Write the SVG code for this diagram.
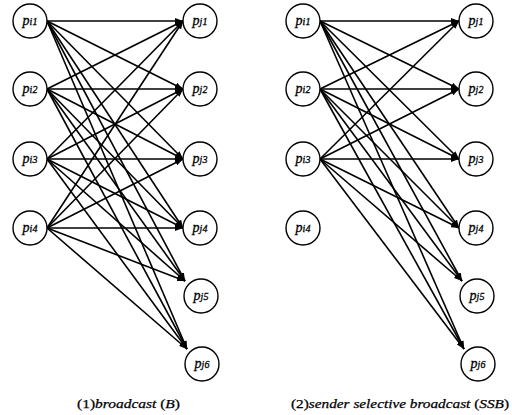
<svg xmlns="http://www.w3.org/2000/svg" width="512" height="415" viewBox="0 0 512 415">
<style>
.n circle{fill:#fff;stroke:#000;stroke-width:1.4}
.n text{font-family:"Liberation Serif",serif;font-style:italic;font-size:14px;fill:#000;text-anchor:middle;stroke:#000;stroke-width:0.3}
.n tspan.s{font-size:10px}
.e line{stroke:#000;stroke-width:1.6;marker-end:url(#ah)}
.cap{font-family:"Liberation Serif",serif;font-size:13px;fill:#000;stroke:#000;stroke-width:0.25}
.cap .i{font-style:italic}
</style>
<defs>
<marker id="ah" markerUnits="userSpaceOnUse" markerWidth="8" markerHeight="6" refX="8" refY="3" orient="auto">
<path d="M0,0 L8,3 L0,6 z" fill="#000"/>
</marker>
</defs>
<g id="edges-left" class="e">
<line x1="47" y1="21" x2="183" y2="21"/><line x1="47" y1="21" x2="183" y2="89"/><line x1="47" y1="21" x2="183" y2="159"/><line x1="47" y1="21" x2="183" y2="228"/><line x1="47" y1="21" x2="185" y2="281"/><line x1="47" y1="21" x2="187" y2="349"/>
<line x1="47" y1="89" x2="183" y2="21"/><line x1="47" y1="89" x2="183" y2="89"/><line x1="47" y1="89" x2="183" y2="159"/><line x1="47" y1="89" x2="183" y2="228"/><line x1="47" y1="89" x2="185" y2="281"/><line x1="47" y1="89" x2="187" y2="349"/>
<line x1="47" y1="159" x2="183" y2="21"/><line x1="47" y1="159" x2="183" y2="89"/><line x1="47" y1="159" x2="183" y2="159"/><line x1="47" y1="159" x2="183" y2="228"/><line x1="47" y1="159" x2="185" y2="281"/><line x1="47" y1="159" x2="187" y2="349"/>
<line x1="47" y1="228" x2="183" y2="21"/><line x1="47" y1="228" x2="183" y2="89"/><line x1="47" y1="228" x2="183" y2="159"/><line x1="47" y1="228" x2="183" y2="228"/><line x1="47" y1="228" x2="185" y2="281"/><line x1="47" y1="228" x2="187" y2="349"/>
</g>
<g id="edges-right" class="e">
<line x1="320" y1="21" x2="459" y2="21"/><line x1="320" y1="21" x2="459" y2="89"/><line x1="320" y1="21" x2="459" y2="159"/><line x1="320" y1="21" x2="459" y2="228"/><line x1="320" y1="21" x2="462" y2="281"/><line x1="320" y1="21" x2="464" y2="349"/>
<line x1="320" y1="89" x2="459" y2="21"/><line x1="320" y1="89" x2="459" y2="89"/><line x1="320" y1="89" x2="459" y2="159"/><line x1="320" y1="89" x2="459" y2="228"/><line x1="320" y1="89" x2="462" y2="281"/><line x1="320" y1="89" x2="464" y2="349"/>
<line x1="320" y1="159" x2="459" y2="21"/><line x1="320" y1="159" x2="459" y2="89"/><line x1="320" y1="159" x2="459" y2="159"/><line x1="320" y1="159" x2="459" y2="228"/><line x1="320" y1="159" x2="462" y2="281"/><line x1="320" y1="159" x2="464" y2="349"/>
</g>
<g id="L-pi1" class="n"><circle cx="30" cy="21" r="17"/><text x="30" y="25">p<tspan class="s">i1</tspan></text></g>
<g id="L-pi2" class="n"><circle cx="30" cy="89" r="17"/><text x="30" y="93">p<tspan class="s">i2</tspan></text></g>
<g id="L-pi3" class="n"><circle cx="30" cy="159" r="17"/><text x="30" y="163">p<tspan class="s">i3</tspan></text></g>
<g id="L-pi4" class="n"><circle cx="30" cy="228" r="17"/><text x="30" y="232">p<tspan class="s">i4</tspan></text></g>
<g id="L-pj1" class="n"><circle cx="200" cy="21" r="17"/><text x="200" y="25">p<tspan class="s">j1</tspan></text></g>
<g id="L-pj2" class="n"><circle cx="200" cy="89" r="17"/><text x="200" y="93">p<tspan class="s">j2</tspan></text></g>
<g id="L-pj3" class="n"><circle cx="200" cy="159" r="17"/><text x="200" y="163">p<tspan class="s">j3</tspan></text></g>
<g id="L-pj4" class="n"><circle cx="200" cy="228" r="17"/><text x="200" y="232">p<tspan class="s">j4</tspan></text></g>
<g id="L-pj5" class="n"><circle cx="201" cy="296" r="17"/><text x="201" y="300">p<tspan class="s">j5</tspan></text></g>
<g id="L-pj6" class="n"><circle cx="202" cy="364" r="17"/><text x="202" y="368">p<tspan class="s">j6</tspan></text></g>
<g id="R-pi1" class="n"><circle cx="303" cy="21" r="17"/><text x="303" y="25">p<tspan class="s">i1</tspan></text></g>
<g id="R-pi2" class="n"><circle cx="303" cy="89" r="17"/><text x="303" y="93">p<tspan class="s">i2</tspan></text></g>
<g id="R-pi3" class="n"><circle cx="303" cy="159" r="17"/><text x="303" y="163">p<tspan class="s">i3</tspan></text></g>
<g id="R-pi4" class="n"><circle cx="303" cy="228" r="17"/><text x="303" y="232">p<tspan class="s">i4</tspan></text></g>
<g id="R-pj1" class="n"><circle cx="476" cy="21" r="17"/><text x="476" y="25">p<tspan class="s">j1</tspan></text></g>
<g id="R-pj2" class="n"><circle cx="476" cy="89" r="17"/><text x="476" y="93">p<tspan class="s">j2</tspan></text></g>
<g id="R-pj3" class="n"><circle cx="476" cy="159" r="17"/><text x="476" y="163">p<tspan class="s">j3</tspan></text></g>
<g id="R-pj4" class="n"><circle cx="476" cy="228" r="17"/><text x="476" y="232">p<tspan class="s">j4</tspan></text></g>
<g id="R-pj5" class="n"><circle cx="477" cy="296" r="17"/><text x="477" y="300">p<tspan class="s">j5</tspan></text></g>
<g id="R-pj6" class="n"><circle cx="478" cy="364" r="17"/><text x="478" y="368">p<tspan class="s">j6</tspan></text></g>
<text class="cap" x="77" y="408" textLength="103" lengthAdjust="spacingAndGlyphs">(1)<tspan class="i">broadcast</tspan> (<tspan class="i">B</tspan>)</text>
<text class="cap" x="291" y="408" textLength="218" lengthAdjust="spacingAndGlyphs">(2)<tspan class="i">sender selective broadcast</tspan> (<tspan class="i">SSB</tspan>)</text>
</svg>
